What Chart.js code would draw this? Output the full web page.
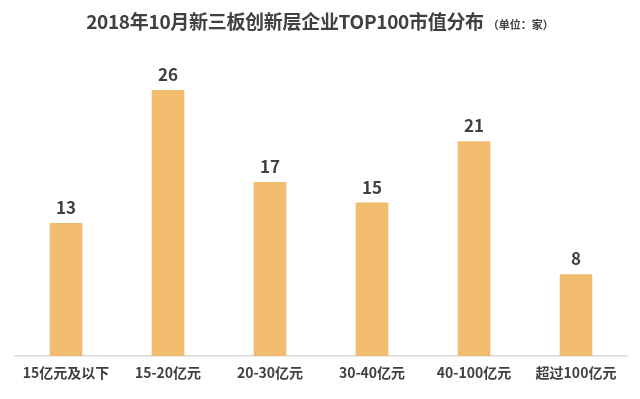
<!DOCTYPE html>
<html>
<head>
<meta charset="utf-8">
<script src="https://cdn.jsdelivr.net/npm/chart.js@4"></script>
<style>
  html, body { margin: 0; padding: 0; background: #fff; }
  #wrap { position: relative; width: 640px; height: 399px; }
  #title { position: absolute; top: 7px; left: 0; width: 640px; text-align: center;
           font-family: "Noto Sans CJK SC", sans-serif; font-weight: bold; font-size: 19px; color: #404040; letter-spacing: -0.3px; }
  #title small { font-size: 11px; font-weight: bold; letter-spacing: 0; }
</style>
</head>
<body>
<div id="wrap">
  <div id="title">2018年10月新三板创新层企业TOP100市值分布 <small>（单位：家）</small></div>
  <canvas id="chart" width="640" height="399"></canvas>
</div>
<script>
// data
const categories = ["15亿元及以下", "15-20亿元", "20-30亿元", "30-40亿元", "40-100亿元", "超过100亿元"];
const counts     = [13, 26, 17, 15, 21, 8];

const BAR  = "#F2BC6E";
const TEXT = "#404040";
const AXIS = "#d9d9d9";

// value labels above bars
const valueLabels = {
  id: "valueLabels",
  afterDatasetsDraw(chart) {
    const ctx = chart.ctx;
    ctx.save();
    ctx.font = "bold 17px 'Noto Sans CJK SC', sans-serif";
    ctx.fillStyle = TEXT;
    ctx.textAlign = "center";
    ctx.textBaseline = "bottom";
    chart.getDatasetMeta(0).data.forEach((bar, i) => {
      ctx.fillText(counts[i], bar.x, bar.y - 7);
    });
    ctx.restore();
  }
};

new Chart(document.getElementById("chart"), {
  type: "bar",
  data: {
    labels: categories,
    datasets: [{
      data: counts,
      backgroundColor: BAR,
      borderWidth: 0,
      categoryPercentage: 1,
      barPercentage: 0.32,
    }]
  },
  options: {
    responsive: false,
    animation: false,
    layout: { padding: { left: 15, right: 13, top: 49, bottom: 10 } },
    plugins: { legend: { display: false }, tooltip: { enabled: false } },
    scales: {
      x: {
        grid: { display: false, drawTicks: false },
        border: { color: AXIS, width: 1.5 },
        ticks: { color: TEXT, padding: 8, font: { family: "'Noto Sans CJK SC', sans-serif", size: 14, weight: "bold" } }
      },
      y: {
        display: false,
        min: 0, max: 30
      }
    }
  },
  plugins: [valueLabels]
});
</script>
</body>
</html>
